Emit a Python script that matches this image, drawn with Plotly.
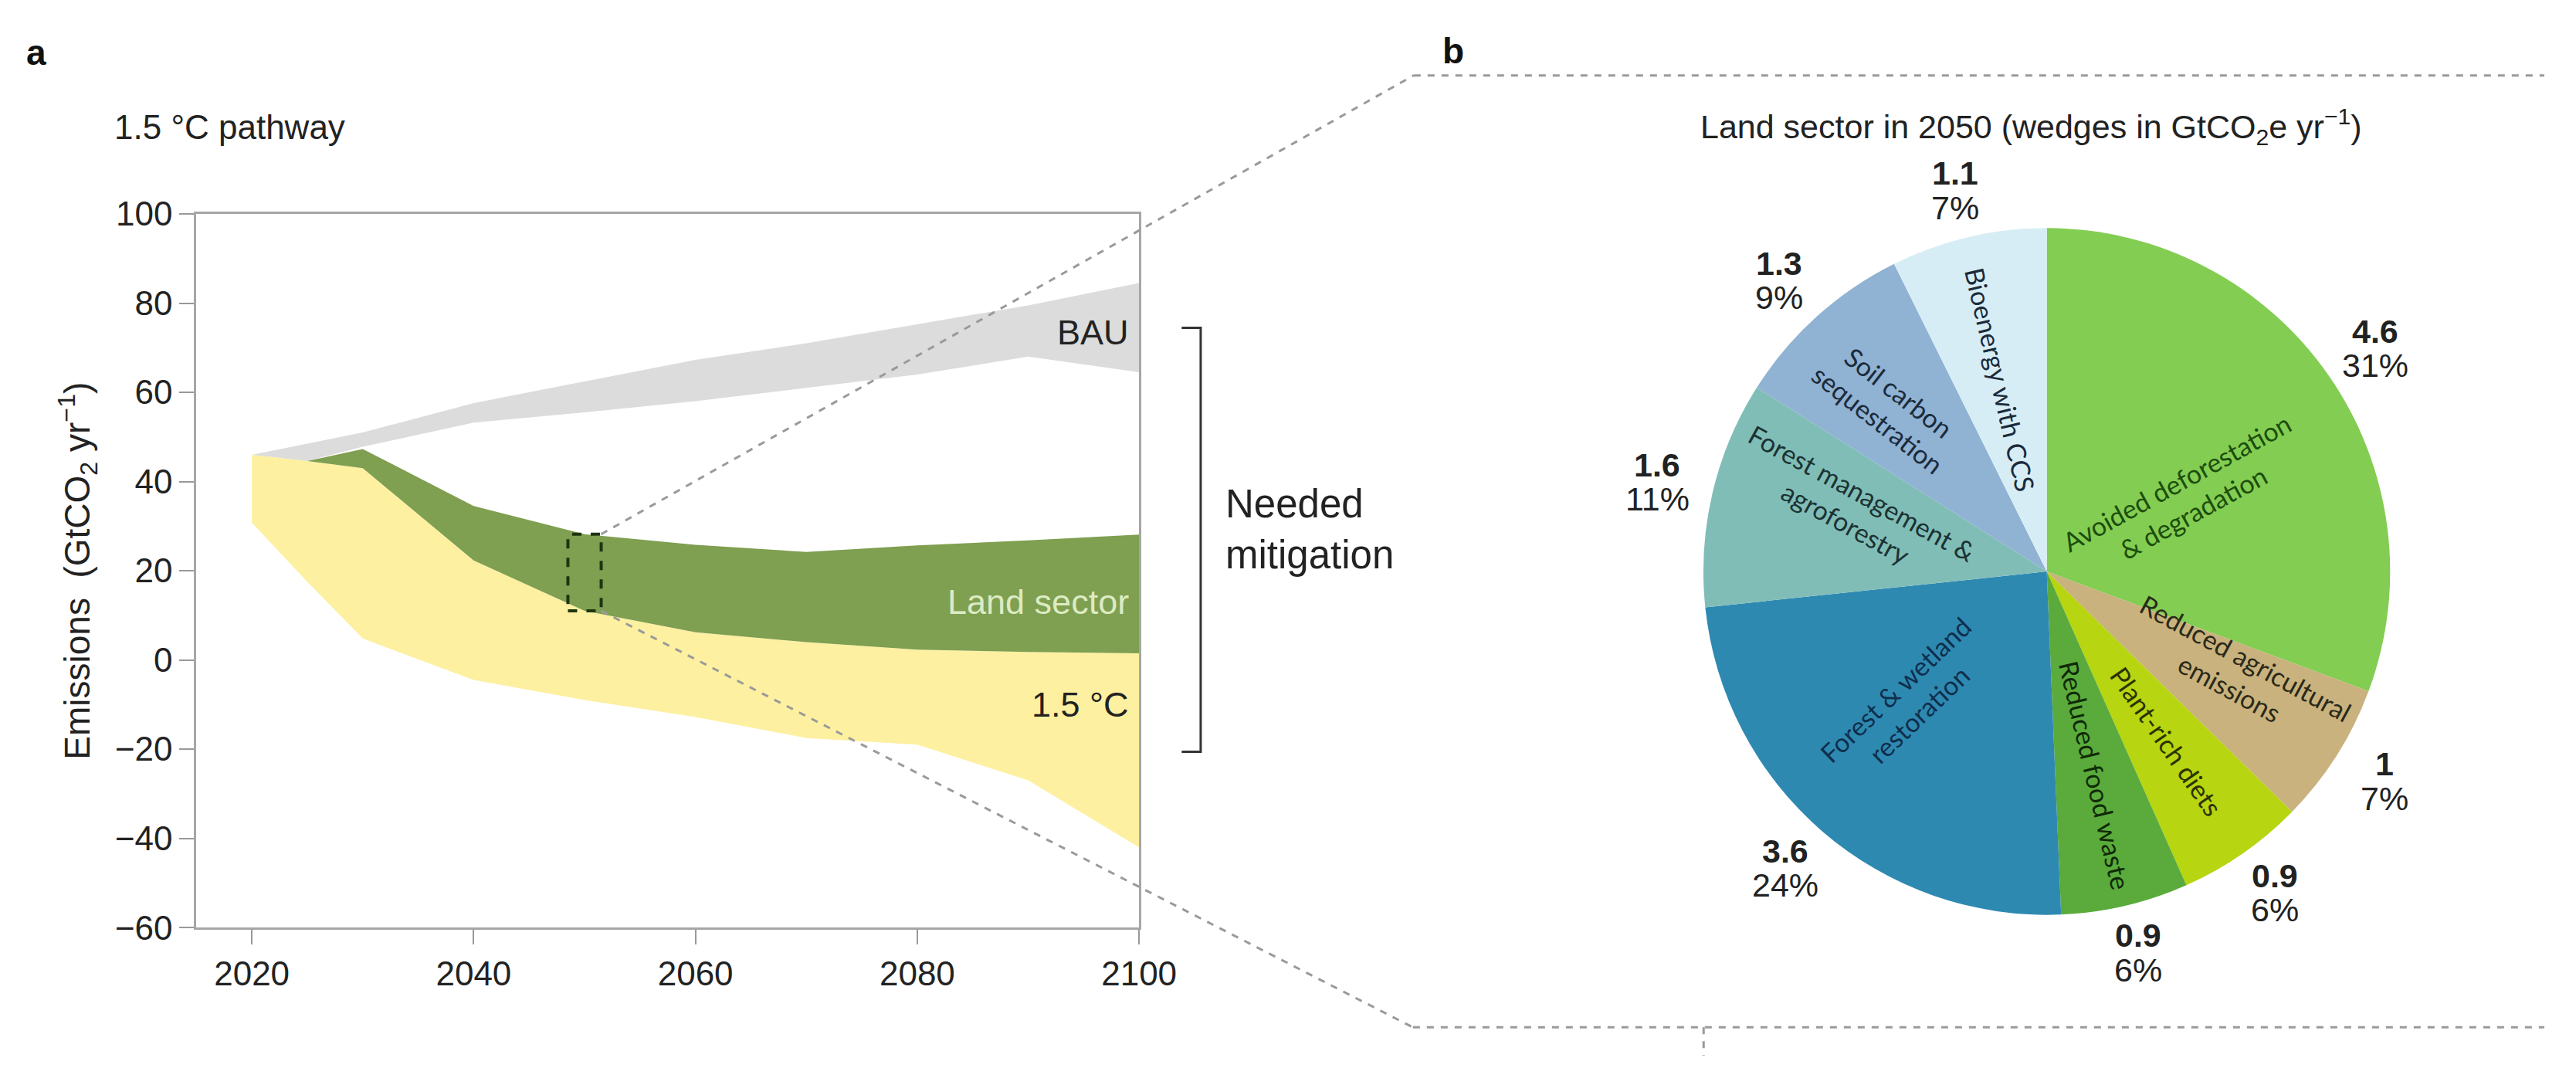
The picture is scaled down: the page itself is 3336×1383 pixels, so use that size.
import math
import plotly.graph_objects as go

W, H = 3336, 1383

# ---------------- data: panel a ----------------
years = [2020, 2025, 2030, 2040, 2050, 2060, 2070, 2080, 2090, 2100]
bau_upper = [46, 48.5, 51.0, 57.6, 62.5, 67.3, 71.0, 75.2, 79.5, 84.5]
bau_lower = [46, 44.6, 47.8, 53.2, 55.5, 58.0, 61.0, 64.0, 68.0, 64.5]
land_upper = [46, 44.6, 47.3, 34.5, 28.2, 25.8, 24.2, 25.7, 26.8, 28.1]
land_lower = [46, 44.6, 43.0, 22.3, 11.0, 6.2, 4.0, 2.3, 1.8, 1.5]   # = top of 1.5 °C band
c15_lower = [30.8, 17.5, 4.8, -4.5, -9.0, -12.8, -17.5, -19.0, -27.0, -42.0]

x_ticks = [2020, 2040, 2060, 2080, 2100]
y_ticks = [-60, -40, -20, 0, 20, 40, 60, 80, 100]
zoom_year = 2050

# ---------------- data: panel b ----------------
wedge_names = ["Avoided deforestation & degradation", "Reduced agricultural emissions",
               "Plant-rich diets", "Reduced food waste", "Forest & wetland restoration",
               "Forest management & agroforestry", "Soil carbon sequestration",
               "Bioenergy with CCS"]
wedge_text = ["Avoided deforestation<br>& degradation", "Reduced agricultural<br>emissions",
              "Plant-rich diets", "Reduced food waste", "Forest & wetland<br>restoration",
              "Forest management &<br>agroforestry", "Soil carbon<br>sequestration",
              "Bioenergy with CCS"]
wedge_values = [4.6, 1.0, 0.9, 0.9, 3.6, 1.6, 1.3, 1.1]

# ---------------- styles ----------------
wedge_colors = ["#82cd52", "#c9b27d", "#b7d511", "#5aab3b", "#2e89b1",
                "#80bdb7", "#90b2d3", "#d7edf6"]
wedge_text_colors = ["#1d4d0c", "#2a2a1a", "#2a3300", "#102a08", "#0e2f4d",
                     "#1b3232", "#1b2b3b", "#1b2b3b"]
# placement tweaks for the in-wedge labels: (angle offset deg, radius fraction, extra rotation deg)
inner_label_style = [(6, 0.45, 0), (-4, 0.62, 0), (0, 0.60, 0), (0, 0.61, 0),
                     (5.5, 0.55, 0), (5.5, 0.58, 10), (-1, 0.66, -9), (0, 0.575, 0)]
outer_label_radius = 1.14
outer_line_gap = 23  # px half distance between value line and percent line

# ---------------- layout helpers ----------------
def px(x):
    return x / W

def py(y):
    return 1 - y / H

XDOM = [px(250), px(1489)]
YDOM = [py(1211), py(253)]
XR = [2015, 2100]
YR = [-60, 100]

PIE_CX, PIE_CY, PIE_R = 2682, 733, 461


def data_to_paper(x, y):
    xp = XDOM[0] + (x - XR[0]) / (XR[1] - XR[0]) * (XDOM[1] - XDOM[0])
    yp = YDOM[0] + (y - YR[0]) / (YR[1] - YR[0]) * (YDOM[1] - YDOM[0])
    return xp, yp


FONT = "Liberation Sans, Arial, sans-serif"
PIEFONT = "Lato, Open Sans, sans-serif"
TXT = "#222222"

fig = go.Figure()


def band(upper, lower, color):
    fig.add_trace(go.Scatter(
        x=years + years[::-1], y=upper + lower[::-1], fill="toself",
        fillcolor=color, line=dict(width=0), mode="lines",
        hoverinfo="skip", showlegend=False))


band(bau_upper, bau_lower, "#dcdcdc")
band(land_lower, c15_lower, "#fdf0a0")
band(land_upper, land_lower, "#7f9f51")

pie_dom = dict(x=[px(PIE_CX - PIE_R), px(PIE_CX + PIE_R)],
               y=[py(PIE_CY + PIE_R), py(PIE_CY - PIE_R)])
fig.add_trace(go.Pie(
    labels=wedge_names, values=wedge_values, textinfo="none", textposition="none",
    marker=dict(colors=wedge_colors, line=dict(width=0)),
    sort=False, direction="clockwise", rotation=0, domain=pie_dom,
    showlegend=False, hoverinfo="label+value+percent"))

axis_common = dict(showgrid=False, zeroline=False, ticks="outside", ticklen=19,
                   tickwidth=2, tickcolor="#999999", showline=True, linecolor="#a6a6a6",
                   linewidth=3, mirror=True,
                   tickfont=dict(family=FONT, size=44, color=TXT))

fig.update_layout(
    width=W, height=H, autosize=False,
    margin=dict(l=0, r=0, t=0, b=0),
    paper_bgcolor="white", plot_bgcolor="white", showlegend=False,
    xaxis=dict(domain=XDOM, range=XR, tickvals=x_ticks, **axis_common),
    yaxis=dict(domain=YDOM, range=YR, tickvals=y_ticks, **axis_common),
)

# zoom rectangle around the 2050 land-sector slice
i50 = years.index(zoom_year)
rx0, rx1 = zoom_year - 1.5, zoom_year + 1.5
ry0, ry1 = land_lower[i50], land_upper[i50]
fig.add_shape(type="rect", xref="x", yref="y", x0=rx0, x1=rx1, y0=ry0, y1=ry1,
              line=dict(color="#1f3510", width=4, dash="dash"))

gray_dash = dict(color="#9a9a9a", width=3, dash="dash")
tr = data_to_paper(rx1, ry1)
br = data_to_paper(rx1, ry0)
fig.add_shape(type="line", xref="paper", yref="paper", x0=tr[0], y0=tr[1],
              x1=px(1850), y1=py(67), line=gray_dash)
fig.add_shape(type="line", xref="paper", yref="paper", x0=br[0], y0=br[1],
              x1=px(1849), y1=py(1345), line=gray_dash)
fig.add_shape(type="line", xref="paper", yref="paper", x0=px(1850), y0=py(67),
              x1=1, y1=py(67), line=gray_dash)
fig.add_shape(type="line", xref="paper", yref="paper", x0=px(1849), y0=py(1345),
              x1=1, y1=py(1345), line=gray_dash)
fig.add_shape(type="line", xref="paper", yref="paper", x0=px(2231), y0=py(1345),
              x1=px(2231), y1=0, line=gray_dash)

# "needed mitigation" bracket
fig.add_shape(type="path", xref="paper", yref="paper",
              path=f"M {px(1545)},{py(406)} L {px(1570)},{py(406)} L {px(1570)},{py(975)} L {px(1545)},{py(975)}",
              line=dict(color="#333333", width=3))


def ann(text, x, y, size=44, color=TXT, xanchor="left", yanchor="middle",
        xref="paper", yref="paper", family=FONT, angle=0, align="left"):
    fig.add_annotation(text=text, x=x, y=y, xref=xref, yref=yref, showarrow=False,
                       font=dict(family=family, size=size, color=color),
                       xanchor=xanchor, yanchor=yanchor, textangle=angle, align=align)


ann("<b>a</b>", px(24), py(36), size=46, color="#111111")
ann("<b>b</b>", px(1886), py(34), size=46, color="#111111")
ann("1.5 °C pathway", px(140), py(136), size=44)
ann("Emissions  (GtCO<sub>2</sub> yr<sup>−1</sup>)", px(93), py(732), size=46,
    xanchor="center", angle=-90)
ann("BAU", 2099.2, 73.5, size=45, xanchor="right", xref="x", yref="y")
ann("Land sector", 2099.2, 13, size=45, color="#dcebc3", xanchor="right", xref="x", yref="y")
ann("1.5 °C", 2099.2, -10, size=45, xanchor="right", xref="x", yref="y")
ann("Needed<br>mitigation", px(1601), py(676), size=51)
ann("Land sector in 2050 (wedges in GtCO<sub>2</sub>e yr<sup>−1</sup>)", px(2662), py(136),
    size=43, xanchor="center")

# wedge labels, positioned from the cumulative values
total = sum(wedge_values)
cum = 0.0
for v, txt, col, (dang, rf, drot) in zip(wedge_values, wedge_text, wedge_text_colors,
                                         inner_label_style):
    mid = (cum + v / 2) / total * 360.0
    cum += v
    # inside (radial) label
    th = math.radians(mid + dang)
    x = PIE_CX + rf * PIE_R * math.sin(th)
    y = PIE_CY - rf * PIE_R * math.cos(th)
    rot = (mid + dang) - 90
    while rot > 90:
        rot -= 180
    while rot < -90:
        rot += 180
    ann(txt, px(x), py(y), size=34, color=col, xanchor="center", family=PIEFONT,
        angle=rot + drot, align="center")
    # outside value / percent label
    tm = math.radians(mid)
    ox = PIE_CX + outer_label_radius * PIE_R * math.sin(tm)
    oy = PIE_CY - outer_label_radius * PIE_R * math.cos(tm)
    pct = round(v / total * 100)
    ann(f"<b>{v:g}</b>", px(ox), py(oy - outer_line_gap), size=43, xanchor="center")
    ann(f"{pct}%", px(ox), py(oy + outer_line_gap), size=43, xanchor="center")

fig.write_html("out.html")
